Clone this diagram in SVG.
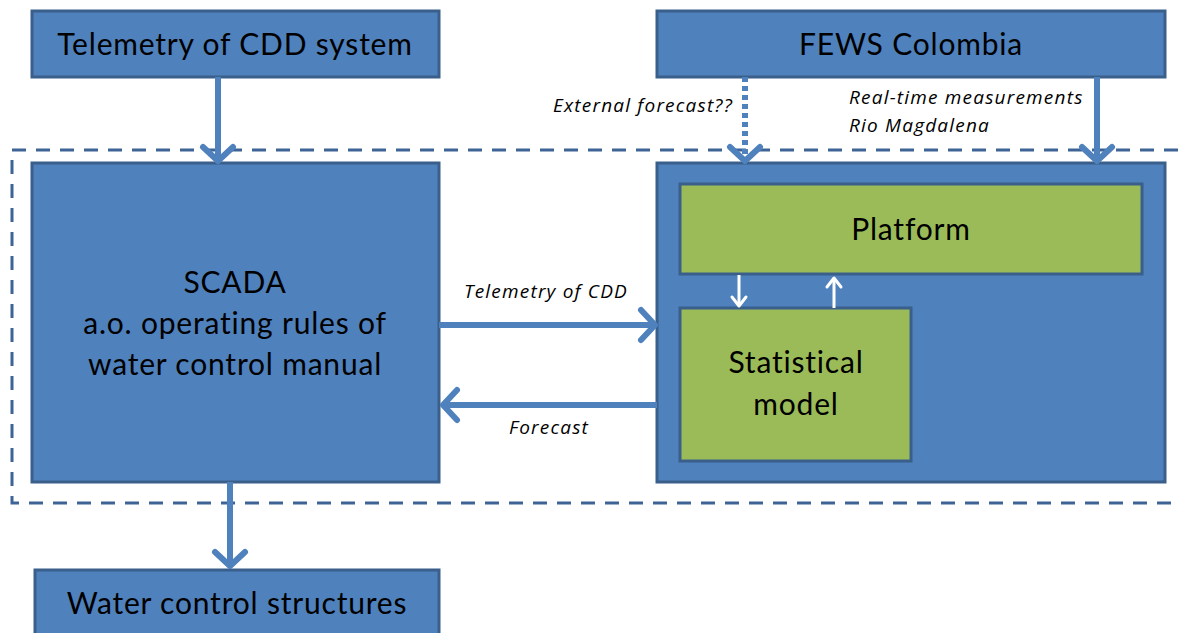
<svg xmlns="http://www.w3.org/2000/svg" width="1178" height="633" viewBox="0 0 1178 633">
  <style>
    .box { fill: #4F81BD; stroke: #3A5F8B; stroke-width: 3; }
    .green { fill: #9BBB59; stroke: #3A5F8B; stroke-width: 3; }
    .label { font-family: Lato, "Liberation Sans", sans-serif; font-size: 30px; letter-spacing: 0.8px; fill: #000; text-anchor: middle; }
    .note { font-family: "Open Sans", "Liberation Sans", sans-serif; font-size: 19px; letter-spacing: 1.2px; font-style: italic; fill: #000; }
    .flow { fill: none; stroke: #4F81BD; stroke-width: 6; marker-end: url(#chev); }
    .inner { fill: none; stroke: #FFFFFF; stroke-width: 3; marker-end: url(#chevWhite); }
    .scope { fill: none; stroke: #3E6496; stroke-width: 3; stroke-dasharray: 14 10; }
  </style>
  <defs>
    <marker id="chev" markerUnits="userSpaceOnUse" markerWidth="40" markerHeight="40" viewBox="-20 -20 40 40" refX="0" refY="0" orient="auto" overflow="visible">
      <path d="M-14,-15 L0,0 L-14,15" fill="none" stroke="#4F81BD" stroke-width="6" stroke-linecap="round" stroke-linejoin="round"/>
    </marker>
    <marker id="chevWhite" markerUnits="userSpaceOnUse" markerWidth="20" markerHeight="20" viewBox="-10 -10 20 20" refX="0" refY="0" orient="auto" overflow="visible">
      <path d="M-9,-7 L0,0 L-9,7" fill="none" stroke="#FFFFFF" stroke-width="3" stroke-linecap="round" stroke-linejoin="round"/>
    </marker>
  </defs>

  <!-- system boundary (open on the right) -->
  <path class="scope" d="M1178,150 L12,150 L12,503 L1178,503"/>

  <g id="telemetry-cdd">
    <rect class="box" x="32" y="11" width="407" height="66"/>
    <text class="label" x="235" y="55">Telemetry of CDD system</text>
  </g>

  <g id="fews-colombia">
    <rect class="box" x="657" y="11" width="508" height="66"/>
    <text class="label" x="911" y="55">FEWS Colombia</text>
  </g>

  <g id="scada">
    <rect class="box" x="32" y="163" width="407" height="319"/>
    <text class="label" x="235" y="293">SCADA</text>
    <text class="label" x="235" y="334">a.o. operating rules of</text>
    <text class="label" x="235" y="375">water control manual</text>
  </g>

  <g id="forecast-system">
    <rect class="box" x="657" y="163" width="508" height="319"/>
  </g>

  <g id="platform">
    <rect class="green" x="680" y="184" width="462" height="90"/>
    <text class="label" x="911" y="240">Platform</text>
  </g>

  <g id="statistical-model">
    <rect class="green" x="680" y="308" width="231" height="153"/>
    <text class="label" x="796" y="373">Statistical</text>
    <text class="label" x="796" y="415">model</text>
  </g>

  <g id="water-control">
    <rect class="box" x="35" y="570" width="404" height="75"/>
    <text class="label" x="237" y="614">Water control structures</text>
  </g>

  <g id="connectors">
    <path class="flow" d="M218,77 L218,161"/>
    <path class="flow" d="M745,77 L745,161" stroke-dasharray="5 4"/>
    <path class="flow" d="M1097,77 L1097,161"/>
    <path class="flow" d="M439,325 L655,325"/>
    <path class="flow" d="M657,405 L443,405"/>
    <path class="flow" d="M230,482 L230,566"/>
    <path class="inner" d="M739,275 L739,306"/>
    <path class="inner" d="M834,308 L834,278"/>
  </g>

  <g id="connector-labels">
    <text class="note" x="733" y="112" text-anchor="end">External forecast??</text>
    <text class="note" x="849" y="104">Real-time measurements</text>
    <text class="note" x="849" y="132">Rio Magdalena</text>
    <text class="note" x="546" y="298" text-anchor="middle">Telemetry of CDD</text>
    <text class="note" x="549" y="434" text-anchor="middle">Forecast</text>
  </g>
</svg>
